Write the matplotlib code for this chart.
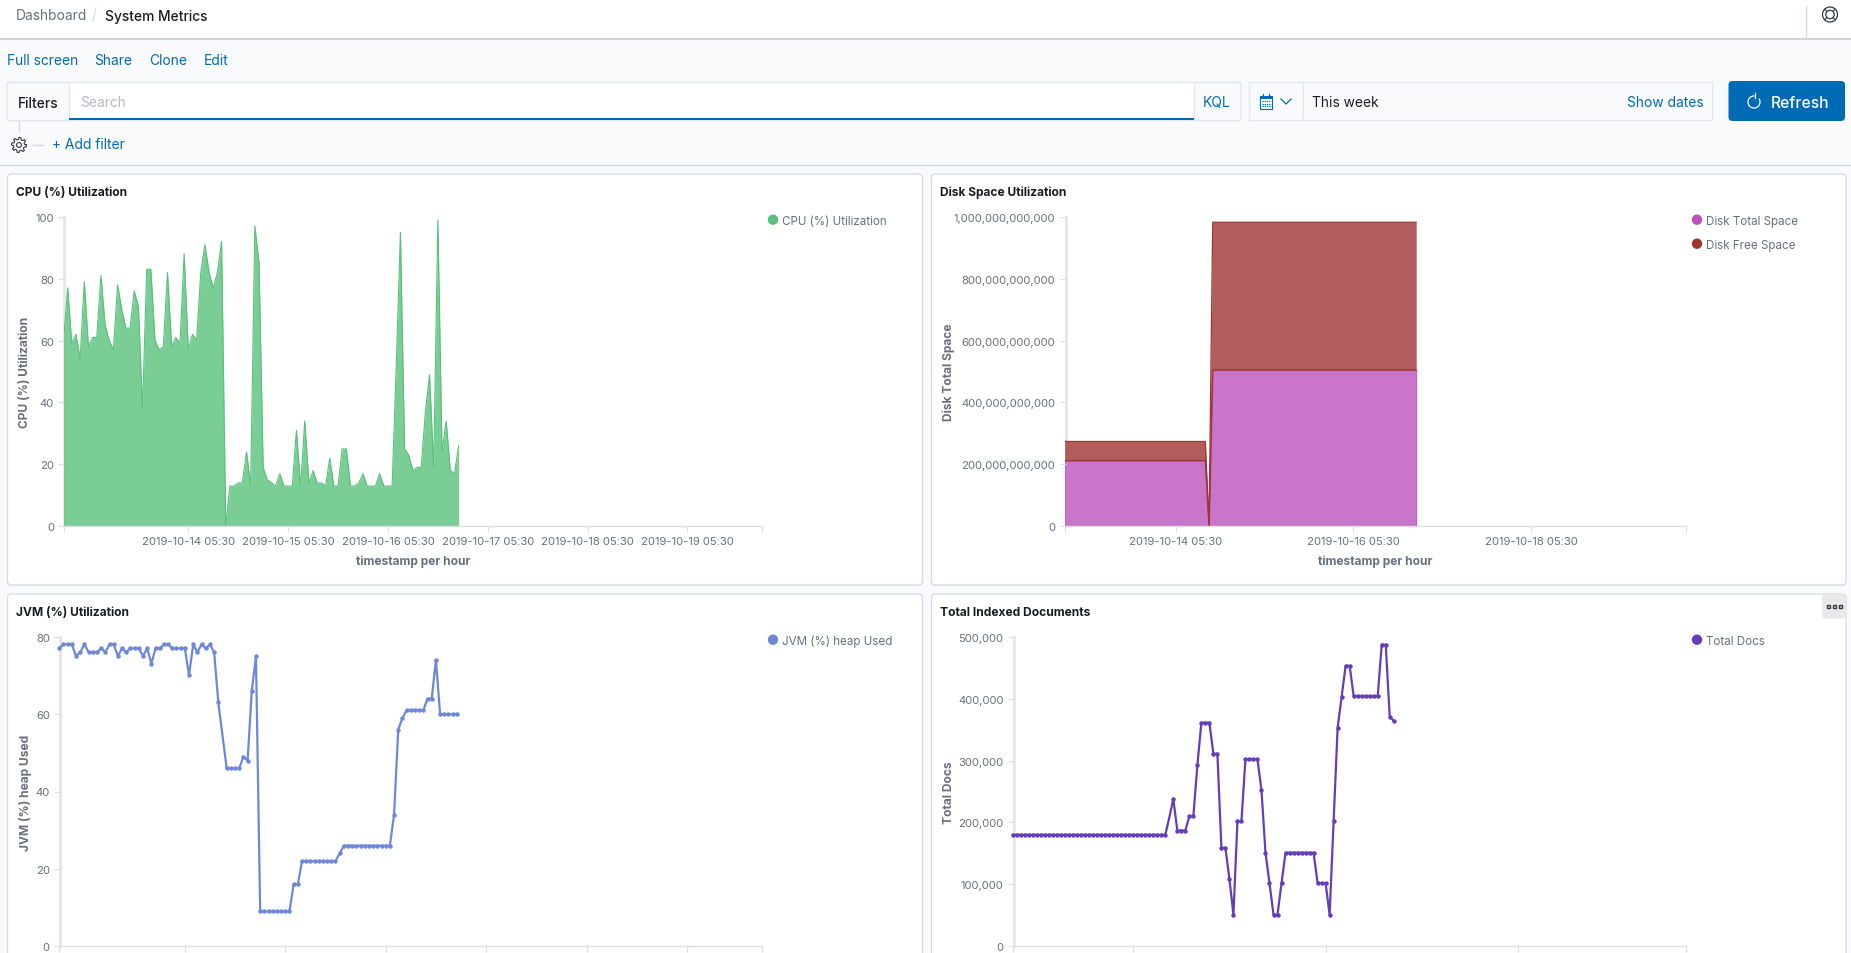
import matplotlib
matplotlib.use("Agg")
from matplotlib import pyplot as plt
from matplotlib.patches import Arc, Circle, FancyBboxPatch, Rectangle
from matplotlib.ticker import StrMethodFormatter
import numpy as np
import pandas as pd

plt.rcParams["font.family"] = ["Inter", "Open Sans", "DejaVu Sans"]

WIDTH, HEIGHT = 1851, 954

# hourly buckets
START = "2019-10-12 23:30"
END = "2019-10-19 23:30"
timestamps = pd.date_range(START, periods=96, freq="h")

daily_ticks = ["2019-10-14 05:30", "2019-10-15 05:30", "2019-10-16 05:30",
               "2019-10-17 05:30", "2019-10-18 05:30", "2019-10-19 05:30"]
two_day_ticks = ["2019-10-14 05:30", "2019-10-16 05:30", "2019-10-18 05:30"]

cpu_used = [60, 77, 59, 62, 54, 79, 58, 61, 61, 81, 65, 60, 57, 78, 70, 64,
            64, 76, 71, 38, 83, 83, 60, 57, 58, 82, 58, 61, 59, 88, 57, 62,
            60, 82, 91, 82, 77, 82, 92, 0, 13, 13, 14, 14, 24, 13, 97, 85,
            19, 15, 14, 13, 17, 13, 13, 13, 31, 13, 34, 14, 18, 14, 14, 13,
            22, 13, 13, 25, 25, 13, 13, 14, 17, 13, 13, 13, 17, 13, 13, 13,
            52, 95, 25, 23, 18, 19, 19, 37, 49, 19, 99, 24, 34, 18, 17, 26]

disk_total = [212e9] * 39 + [0] + [505e9] * 56
disk_free = [62e9] * 39 + [0] + [477e9] * 56

jvm_heap = [77, 78, 78, 78, 75, 76, 78, 76, 76, 76, 77, 76, 78, 78, 75, 77,
            76, 77, 77, 77, 75, 77, 73, 77, 77, 78, 78, 77, 77, 77, 77, 70,
            78, 76, 78, 77, 78, 76, 63, 54.5, 46, 46, 46, 46, 49, 48, 66, 75,
            9, 9, 9, 9, 9, 9, 9, 9, 16, 16, 22, 22, 22, 22, 22, 22,
            22, 22, 22, 24, 26, 26, 26, 26, 26, 26, 26, 26, 26, 26, 26, 26,
            34, 56, 59, 61, 61, 61, 61, 61, 64, 64, 74, 60, 60, 60, 60, 60]

total_docs = [180000] * 39 + [208000, 238000, 187000, 187000, 187000, 210000,
              210000, 292000, 361000, 361000, 361000, 311000, 311000, 159000,
              159000, 109000, 51000, 202000, 202000, 302000, 302000, 302000,
              302000, 252000, 151000, 102000, 51000, 51000, 102000, 151000,
              151000, 151000, 151000, 151000, 151000, 151000, 151000, 102000,
              102000, 102000, 51000, 202000, 353000, 403000, 453000, 453000,
              404000, 404000, 404000, 404000, 404000, 404000, 404000, 487000,
              487000, 371000, 364000]

# bucket 39 has no document of its own, the line just passes through
with_marker = [i for i in range(96) if i != 39]

GRAY = "#69707D"
AXIS = "#DCDEE2"
BLUE = "#006BB4"
INK = "#1A1C21"
BORDER = "#D3DAE6"
PAGE = "#F9FAFC"
ICON = "#343741"


def px(size):
    return size * 0.72


def chart_axes(fig, left, right, top, bottom):
    ax = fig.add_axes([left / WIDTH, 1 - bottom / HEIGHT,
                       (right - left) / WIDTH, (bottom - top) / HEIGHT])
    ax.patch.set_alpha(0)
    ax.set_xlim(pd.Timestamp(START), pd.Timestamp(END))
    for side in ("top", "right"):
        ax.spines[side].set_visible(False)
    ax.spines["left"].set_color("#E6E6E6")
    ax.spines["left"].set_linewidth(2)
    ax.spines["left"].set_position(("outward", -0.7))
    ax.spines["left"].set_zorder(0)
    ax.spines["bottom"].set_color(AXIS)
    ax.spines["bottom"].set_linewidth(1)
    ax.tick_params(axis="both", length=4.5, width=0.8, color=AXIS,
                   labelcolor=GRAY, labelsize=px(11.3), pad=3)
    ax.tick_params(axis="x", pad=2.3)
    return ax


def set_time_ticks(ax, ticks, show_labels=True):
    places = [pd.Timestamp(START)] + [pd.Timestamp(t) for t in ticks] + [pd.Timestamp(END)]
    labels = [""] + (list(ticks) if show_labels else [""] * len(ticks)) + [""]
    ax.set_xticks(places, labels)


def axis_titles(ylabel, y_x, y_mid, x_mid=None, x_y=None):
    ui.text(y_x, y_mid, ylabel, rotation=90, ha="center", va="center",
            fontsize=px(12), fontweight="bold", color=GRAY)
    if x_mid is not None:
        ui.text(x_mid, x_y, "timestamp per hour", ha="center", va="center",
                fontsize=px(12), fontweight="bold", color=GRAY)


def legend_entry(x, y, color, label):
    ui.add_patch(Circle((x, y), 5.2, facecolor=color, edgecolor="none"))
    ui.text(x + 8.7, y + 1, label, ha="left", va="center", fontsize=px(11.6), color=GRAY)


def panel(x0, y0, x1, y1, title):
    ui.add_patch(FancyBboxPatch((x0, y0 + 1), x1 - x0, y1 - y0,
                                boxstyle="round,pad=0,rounding_size=4",
                                facecolor="#E4E8F0", edgecolor="none"))
    ui.add_patch(FancyBboxPatch((x0, y0), x1 - x0, y1 - y0,
                                boxstyle="round,pad=0,rounding_size=4",
                                facecolor="white", edgecolor=BORDER, linewidth=0.9))
    ui.text(x0 + 8.5, y0 + 18, title, ha="left", va="center",
            fontsize=px(12), fontweight="bold", color=INK)


fig = plt.figure(figsize=(WIDTH / 100, HEIGHT / 100), dpi=100, facecolor=PAGE)

ui = fig.add_axes([0, 0, 1, 1], zorder=-1)
ui.set_xlim(0, WIDTH)
ui.set_ylim(HEIGHT, 0)
ui.axis("off")

# top bar
ui.add_patch(Rectangle((0, 0), WIDTH, 39, facecolor="white", edgecolor="none"))
ui.plot([0, WIDTH], [39.5, 39.5], color="#CDD3DF", lw=1.5)
ui.text(16, 16.5, "Dashboard", va="center", fontsize=px(13.8), color=GRAY)
ui.plot([93, 96], [22, 9], color=BORDER, lw=0.8)
ui.text(104.5, 16.5, "System Metrics", va="center", fontsize=px(13.8), color=INK, fontweight="medium")
ui.plot([1806, 1806], [7, 39], color=BORDER, lw=1)
ui.add_patch(Circle((1830, 15.5), 7.5, facecolor="none", edgecolor=ICON, lw=0.9))
ui.add_patch(Circle((1830, 15.5), 4.2, facecolor="none", edgecolor=ICON, lw=0.9))
for dx, dy in [(1, 1), (1, -1), (-1, 1), (-1, -1)]:
    ui.plot([1830 + 3 * dx, 1830 + 5.3 * dx], [15.5 + 3 * dy, 15.5 + 5.3 * dy], color=ICON, lw=0.8)

# menu links
for x, label in [(7, "Full screen"), (94, "Share"), (149.5, "Clone"), (203.5, "Edit")]:
    ui.text(x, 61, label, va="center", fontsize=px(13.8), color=BLUE)

# query bar
ui.add_patch(Rectangle((7, 83), 1233, 38, facecolor="white", edgecolor="#E3E7EE", lw=1))
ui.add_patch(Rectangle((7, 83), 62, 38, facecolor=PAGE, edgecolor="#E3E7EE", lw=1))
ui.add_patch(Rectangle((1194, 83), 46, 38, facecolor=PAGE, edgecolor="#E3E7EE", lw=1))
ui.add_patch(Rectangle((69, 119), 1125, 2.2, facecolor=BLUE, edgecolor="none"))
ui.text(18, 104, "Filters", va="center", fontsize=px(13.8), color=INK, fontweight="medium")
ui.text(80.5, 103, "Search", va="center", fontsize=px(13.8), color="#B5BAC4")
ui.text(1203, 103, "KQL", va="center", fontsize=px(13.8), color=BLUE)

# date picker
ui.add_patch(Rectangle((1248.5, 83), 463.5, 38, facecolor=PAGE, edgecolor="#E3E7EE", lw=1))
ui.plot([1303, 1303], [84, 120], color="#E3E7EE", lw=1)
ui.add_patch(Rectangle((1260, 97), 12, 13, facecolor="none", edgecolor=BLUE, lw=0.8))
ui.add_patch(Rectangle((1260, 97), 12, 2.5, facecolor=BLUE, edgecolor="none"))
ui.plot([1263, 1263], [95, 98], color=BLUE, lw=0.9)
ui.plot([1269, 1269], [95, 98], color=BLUE, lw=0.9)
for y in (102, 104.5, 107):
    ui.plot([1262, 1270], [y, y], color=BLUE, lw=0.8, linestyle=(0, (1.2, 0.8)))
ui.plot([1281, 1286, 1291], [100, 105, 100], color=BLUE, lw=0.9)
ui.text(1311.5, 103, "This week", va="center", fontsize=px(13.8), color=INK)
ui.text(1704, 103, "Show dates", ha="right", va="center", fontsize=px(13.8), color=BLUE)

# refresh button
ui.add_patch(FancyBboxPatch((1728.5, 82), 116.5, 40, boxstyle="round,pad=0,rounding_size=4",
                            facecolor=BLUE, edgecolor="none"))
ui.add_patch(Arc((1754, 103), 12, 12, theta1=-35, theta2=275, edgecolor="white", lw=0.9))
ui.plot([1755, 1755], [94, 99], color="white", lw=0.9)
ui.text(1771, 103, "Refresh", va="center", fontsize=px(15.7), color="white", fontweight="medium")

# filter row
ui.plot([19, 19], [122, 132], color=BORDER, lw=1)
angles = np.linspace(0, 2 * np.pi, 49)
radii = np.where(np.arange(49) % 6 < 3, 7.5, 5.5)
ui.plot(19 + radii * np.cos(angles), 146 + radii * np.sin(angles), color=ICON, lw=0.8)
ui.add_patch(Circle((19, 146), 2.4, facecolor="none", edgecolor=ICON, lw=0.8))
ui.plot([33, 43], [146, 146], color=BORDER, lw=1)
ui.text(52, 145, "+ Add filter", va="center", fontsize=px(13.8), color=BLUE)
ui.plot([0, WIDTH], [166, 166], color=BORDER, lw=1)

# panels
panel(7.5, 175, 922.5, 586, "CPU (%) Utilization")
panel(931.5, 175, 1846, 586, "Disk Space Utilization")
panel(7.5, 595, 922.5, 975, "JVM (%) Utilization")
panel(931.5, 595, 1846, 975, "Total Indexed Documents")

ui.add_patch(FancyBboxPatch((1822, 595.5), 23.5, 24, boxstyle="round,pad=0,rounding_size=3",
                            facecolor="#E9E9EA", edgecolor="none"))
for x in (1828, 1834, 1840.5):
    ui.add_patch(Rectangle((x - 1.5, 606.2), 3, 3, facecolor="none", edgecolor=ICON, lw=1))

# CPU
ax = chart_axes(fig, 63.5, 762.3, 217.7, 527.3)
ax.fill_between(timestamps, 0, cpu_used, color="#57C17B", alpha=0.8, linewidth=0)
ax.plot(timestamps, cpu_used, color="#57C17B", lw=0.8)
ax.set_ylim(0, 100)
ax.set_yticks([0, 20, 40, 60, 80, 100])
set_time_ticks(ax, daily_ticks)
axis_titles("CPU (%) Utilization", 25, 372.7, 413, 561.5)
legend_entry(773, 220.7, "#57C17B", "CPU (%) Utilization")

# disk
ax = chart_axes(fig, 1064.7, 1686.3, 217.7, 527.3)
disk_top = [t + f for t, f in zip(disk_total, disk_free)]
ax.fill_between(timestamps, 0, disk_total, facecolor="#C975C9", edgecolor="#BC52BC", linewidth=0.7)
ax.fill_between(timestamps, disk_total, disk_top, color="#9E3533", alpha=0.8, linewidth=0)
ax.plot(timestamps, disk_total, color="#9E3533", lw=0.9)
ax.plot(timestamps, disk_top, color="#9E3533", lw=0.9)
ax.set_ylim(0, 1e12)
ax.set_yticks([0, 2e11, 4e11, 6e11, 8e11, 1e12])
ax.yaxis.set_major_formatter(StrMethodFormatter("{x:,.0f}"))
set_time_ticks(ax, two_day_ticks)
axis_titles("Disk Total Space", 949, 372.7, 1375.6, 561.5)
legend_entry(1697, 220.7, "#BC52BC", "Disk Total Space")
legend_entry(1697, 244.7, "#9E3533", "Disk Free Space")

# JVM, x labels fall below the screenshot
ax = chart_axes(fig, 59.3, 762.3, 637.7, 947.3)
ax.plot(timestamps, jvm_heap, color="#6F87D8", lw=1.6, marker="o", ms=2.2,
        markevery=with_marker, clip_on=False)
ax.set_ylim(0, 80)
ax.set_yticks([0, 20, 40, 60, 80])
set_time_ticks(ax, daily_ticks, show_labels=False)
axis_titles("JVM (%) heap Used", 25, 792.7)
legend_entry(773, 640.7, "#6F87D8", "JVM (%) heap Used")

# docs
ax = chart_axes(fig, 1013, 1686.3, 637.7, 947.3)
ax.plot(timestamps, total_docs, color="#663DB8", lw=1.6, marker="o", ms=2.2,
        markevery=with_marker, clip_on=False)
ax.set_ylim(0, 500000)
ax.set_yticks([0, 100000, 200000, 300000, 400000, 500000])
ax.yaxis.set_major_formatter(StrMethodFormatter("{x:,.0f}"))
set_time_ticks(ax, two_day_ticks, show_labels=False)
axis_titles("Total Docs", 949, 792.7)
legend_entry(1697, 640.7, "#663DB8", "Total Docs")

fig.savefig("out.png", dpi=100)
plt.close()
